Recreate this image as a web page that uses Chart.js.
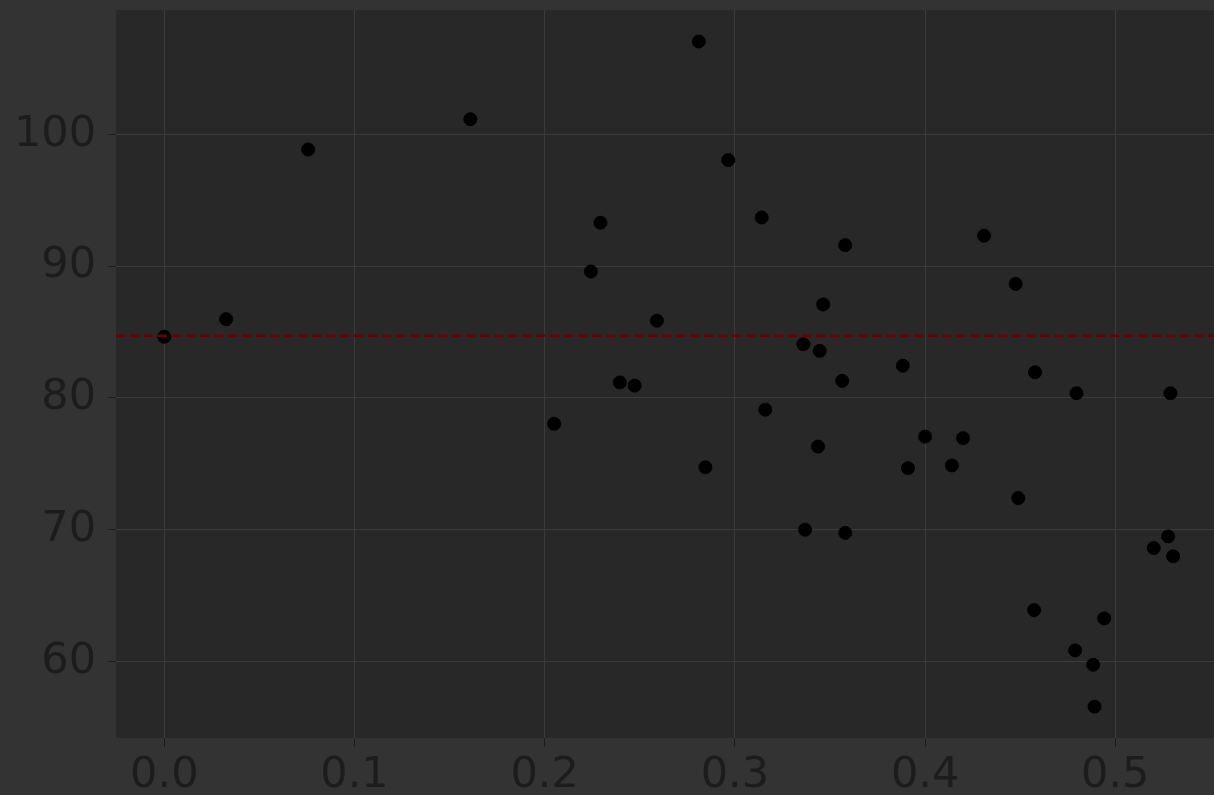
<!DOCTYPE html>
<html>
<head>
<meta charset="utf-8">
<script src="https://cdn.jsdelivr.net/npm/chart.js@4"></script>
<style>
    html, body { margin: 0; padding: 0; background: #333333; overflow: hidden; }
    #wrap { width: 1214px; height: 795px; }
</style>
</head>
<body>
<div id="wrap"><canvas id="scatterChart" width="1214" height="795"></canvas></div>
<script>
// points
const xValues = [0.0, 0.0325, 0.0756, 0.1609, 0.205, 0.2243, 0.2293, 0.2395, 0.2473, 0.259,
    0.281, 0.2845, 0.2965, 0.3141, 0.316, 0.336, 0.3369, 0.3437, 0.3446, 0.3464,
    0.3564, 0.358, 0.358, 0.3883, 0.391, 0.4, 0.4141, 0.42, 0.431, 0.4476,
    0.449, 0.4573, 0.4578, 0.4789, 0.4796, 0.4884, 0.4891, 0.4942, 0.5202, 0.5278,
    0.529, 0.5304];
const yValues = [84.64, 85.98, 98.86, 101.16, 78.04, 89.6, 93.3, 81.18, 80.94, 85.87,
    107.06, 74.74, 98.06, 93.7, 79.11, 84.08, 70.0, 76.31, 83.58, 87.1,
    81.3, 91.6, 69.76, 82.45, 74.67, 77.07, 74.88, 76.95, 92.32, 88.66,
    72.4, 63.9, 81.95, 60.84, 80.36, 59.75, 56.57, 63.27, 68.61, 69.49,
    80.36, 67.98];
const meanValue = 84.73;

const xTicks = [0.0, 0.1, 0.2, 0.3, 0.4, 0.5];
const yTicks = [60, 70, 80, 90, 100];
const xMin = -0.0254, xMax = 0.5519;
const yMin = 54.19, yMax = 109.45;

const textColor = "#1c1c1c";
const gridColor = "#3b3b3b";

const plotBackground = {
    id: "plotBackground",
    beforeDraw(chart) {
        const { ctx, chartArea } = chart;
        ctx.save();
        ctx.fillStyle = "#282828";
        ctx.fillRect(chartArea.left, chartArea.top, chartArea.right - chartArea.left, chartArea.bottom - chartArea.top);
        ctx.restore();
    }
};

// no auto padding for overflowing labels
function noPadding(scale) {
    scale.paddingTop = 0;
    scale.paddingBottom = 0;
    scale.paddingLeft = 0;
    scale.paddingRight = 0;
}

const points = xValues.map((x, i) => ({ x: x, y: yValues[i] }));

new Chart(document.getElementById("scatterChart"), {
    type: "scatter",
    data: {
        datasets: [
            {
                type: "line",
                data: [{ x: xMin, y: meanValue }, { x: xMax, y: meanValue }],
                borderColor: "#6a0000",
                borderWidth: 2.5,
                borderDash: [9, 5],
                pointRadius: 0,
                order: 0
            },
            {
                data: points,
                backgroundColor: "#000000",
                borderColor: "#000000",
                borderWidth: 1,
                pointRadius: 6.5,
                order: 1
            }
        ]
    },
    plugins: [plotBackground],
    options: {
        responsive: false,
        animation: false,
        layout: { autoPadding: false, padding: { top: 10, right: 0, left: 0, bottom: 0 } },
        plugins: { legend: { display: false }, tooltip: { enabled: false } },
        scales: {
            x: {
                type: "linear",
                min: xMin,
                max: xMax,
                afterBuildTicks: (scale) => { scale.ticks = xTicks.map(v => ({ value: v })); },
                afterFit: (scale) => { scale.height = 57; noPadding(scale); },
                border: { display: false },
                grid: { color: gridColor, tickColor: textColor, tickLength: 9, lineWidth: 1 },
                ticks: {
                    color: textColor,
                    font: { family: "DejaVu Sans", size: 43 },
                    padding: 3,
                    maxRotation: 0,
                    callback: (v) => v.toFixed(1)
                }
            },
            y: {
                type: "linear",
                min: yMin,
                max: yMax,
                afterBuildTicks: (scale) => { scale.ticks = yTicks.map(v => ({ value: v })); },
                afterFit: (scale) => { scale.width = 116; noPadding(scale); },
                border: { display: false },
                grid: { color: gridColor, tickColor: textColor, tickLength: 8, lineWidth: 1 },
                ticks: {
                    color: textColor,
                    font: { family: "DejaVu Sans", size: 43 },
                    padding: 12,
                    callback: (v) => String(v)
                }
            }
        }
    }
});
</script>
</body>
</html>
